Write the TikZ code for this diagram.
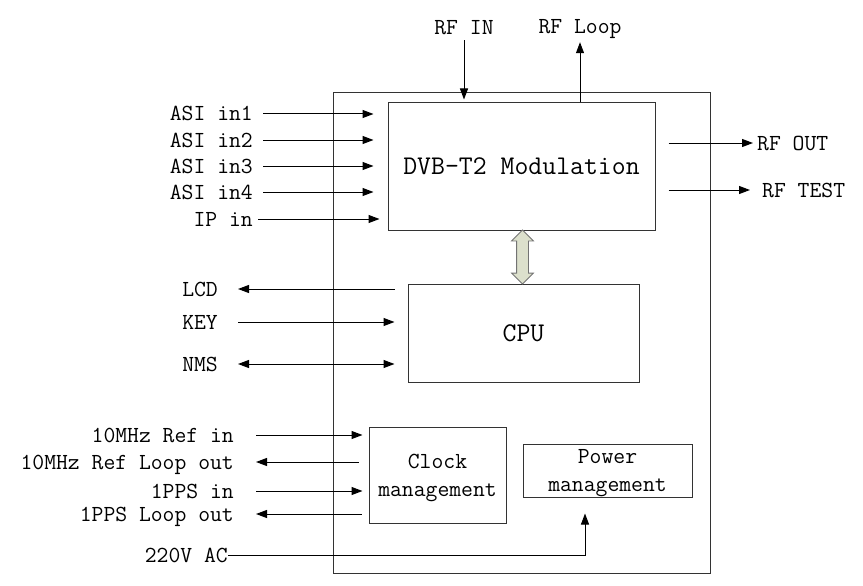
\documentclass[tikz,border=0pt]{standalone}
\usepackage{tikz}
\usetikzlibrary{shapes,arrows,positioning,calc,arrows.meta}
\definecolor{busgreen}{RGB}{220,224,204}

\begin{document}
\begin{tikzpicture}[
        x=1pt, y=-1pt,
        blockbox/.style={rectangle, draw=black!80, line width=1pt, inner sep=0pt, align=center, font=\ttfamily\fontsize{23}{28}\selectfont},
        bigbox/.style={blockbox, font=\ttfamily\fontsize{27}{32}\selectfont},
        signame/.style={inner sep=0pt, text height=14pt, text depth=0pt, font=\ttfamily\fontsize{23}{28}\selectfont},
        arrow/.style={-{Triangle[length=11pt,width=8pt]}, line width=1pt, draw=black},
        twoway/.style={{Triangle[length=11pt,width=8pt]}-{Triangle[length=11pt,width=8pt]}, line width=1pt, draw=black},
        busarrow/.style={double arrow, draw=black!55, fill=busgreen, line width=0.8pt, rotate=90, inner sep=5.5pt, double arrow head extend=5pt, minimum height=54pt}
        ]
        \useasboundingbox (0,0) rectangle (863,586);

        % Housing and blocks
        \node[blockbox, minimum width=377pt, minimum height=480pt] (unit) at (521.5,333) {};
        \node[bigbox, minimum width=267pt, minimum height=127pt] (dvb) at (521.5,166.5) {DVB-T2 Modulation};
        \node[bigbox, minimum width=231pt, minimum height=98pt] (cpu) at (523.5,333) {CPU};
        \node[blockbox, text depth=0pt, minimum width=137pt, minimum height=96pt] (clock) at (437.5,475) {Clock\\management};
        \node[blockbox, text depth=0pt, minimum width=169pt, minimum height=53pt] (power) at (607.5,470.5) {Power\\management};
        \node[busarrow] (bus) at ($(dvb.south)!0.5!(cpu.north)$) {};

        % RF signals
        \node[signame] (rfin) at (464,28) {RF IN};
        \node[signame] (rfloop) at (580,27) {RF Loop};
        \node[signame, anchor=west] (rfout) at (757,143) {RF OUT};
        \node[signame, anchor=west] (rftest) at (762,190) {RF TEST};

        % Transport stream inputs
        \node[signame, anchor=east] (in1) at (253,114) {ASI in1};
        \node[signame, anchor=east] (in2) at (253,140) {ASI in2};
        \node[signame, anchor=east] (in3) at (253,166) {ASI in3};
        \node[signame, anchor=east] (in4) at (253,192) {ASI in4};
        \node[signame, anchor=east] (ipin) at (253,219) {IP in};

        % Control
        \node[signame, anchor=east] (lcd) at (218,289) {LCD};
        \node[signame, anchor=east] (key) at (218,322) {KEY};
        \node[signame, anchor=east] (nms) at (218,364) {NMS};

        % Clock and power
        \node[signame, anchor=east] (refin) at (234,435) {10MHz Ref in};
        \node[signame, anchor=east] (refout) at (234,462) {10MHz Ref Loop out};
        \node[signame, anchor=east] (ppsin) at (234,491) {1PPS in};
        \node[signame, anchor=east] (ppsout) at (234,514) {1PPS Loop out};
        \node[signame, anchor=east] (ac) at (228,555) {220V AC};

        % Connections
        \draw[arrow, shorten <=5pt, shorten >=3pt] (rfin.south) -- (rfin.south |- dvb.north);
        \draw[arrow, shorten >=8pt] (rfloop.south |- dvb.north) -- (rfloop.south);
        \draw[arrow, shorten <=13pt, shorten >=4pt] (dvb.east |- rfout.west) -- (rfout.west);
        \draw[arrow, shorten <=13pt, shorten >=12pt] (dvb.east |- rftest.west) -- (rftest.west);
        \foreach \src in {in1, in2, in3, in4}
            \draw[arrow, shorten <=10pt, shorten >=14pt] (\src.east) -- (\src.east -| dvb.west);
        \draw[arrow, shorten <=5pt, shorten >=8pt] (ipin.east) -- (ipin.east -| dvb.west);
        \draw[arrow, shorten <=13pt, shorten >=20pt] (lcd.east -| cpu.west) -- (lcd.east);
        \draw[arrow, shorten <=20pt, shorten >=13pt] (key.east) -- (key.east -| cpu.west);
        \draw[twoway, shorten <=20pt, shorten >=13pt] (nms.east) -- (nms.east -| cpu.west);
        \draw[arrow, shorten <=22pt, shorten >=6pt] (refin.east) -- (refin.east -| clock.west);
        \draw[arrow, shorten <=10pt, shorten >=22pt] (refout.east -| clock.west) -- (refout.east);
        \draw[arrow, shorten <=22pt, shorten >=6pt] (ppsin.east) -- (ppsin.east -| clock.west);
        \draw[arrow, shorten <=7pt, shorten >=22pt] (ppsout.east -| clock.west) -- (ppsout.east);
        \draw[arrow, shorten >=16pt] (ac.east) -| ([xshift=-22.5pt]power.south);

    \end{tikzpicture}
\end{document}
